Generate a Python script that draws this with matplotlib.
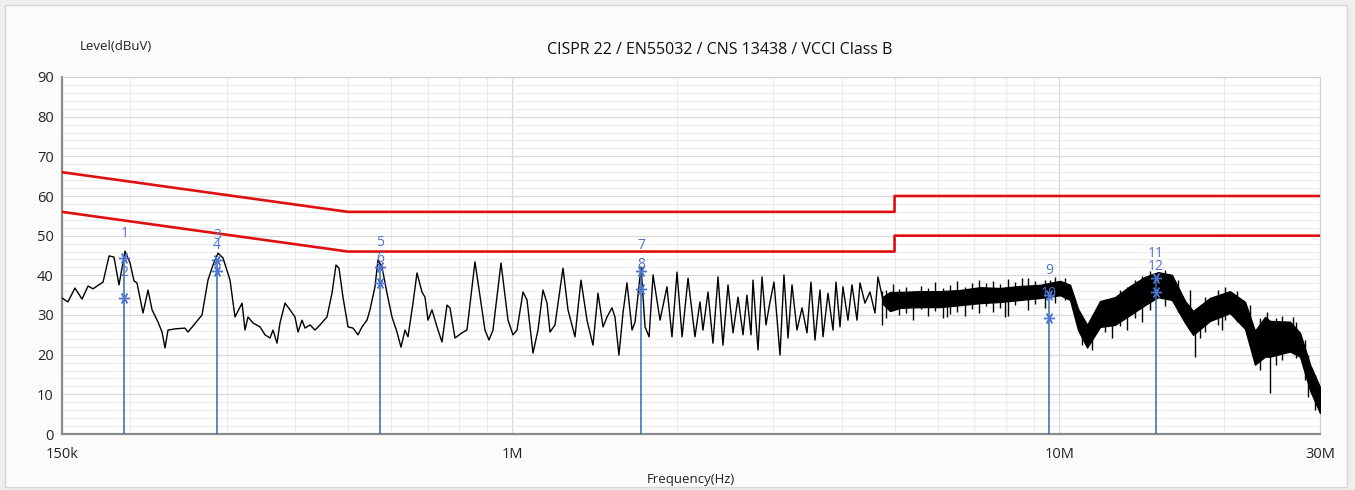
import matplotlib
matplotlib.use("Agg")
import matplotlib.pyplot as plt
from matplotlib.patches import Rectangle
from matplotlib.ticker import FixedLocator, NullFormatter

plt.rcParams['font.family'] = ['Open Sans', 'DejaVu Sans']

# --- conducted emission scan, resolved part (MHz, dBuV) ---
scan_mhz = [
    0.150, 0.1538, 0.1584, 0.1632, 0.1674, 0.1709, 0.1783, 0.1829, 0.1867, 0.1907,
    0.1956, 0.1998, 0.2031, 0.2057, 0.2110, 0.2155, 0.2192, 0.2248, 0.2286, 0.2315,
    0.2344, 0.2414, 0.2518, 0.2550, 0.2705, 0.2774, 0.2833, 0.2894, 0.2955, 0.3044,
    0.3108, 0.3202, 0.3242, 0.3283, 0.3353, 0.3454, 0.3527, 0.3602, 0.3648, 0.3710,
    0.3757, 0.3837, 0.3919, 0.4002, 0.4053, 0.4122, 0.4174, 0.4263, 0.4354, 0.4446,
    0.4579, 0.4677, 0.4756, 0.4817, 0.4898, 0.5003, 0.5109, 0.5218, 0.5307, 0.5420,
    0.5488, 0.5605, 0.5676, 0.5773, 0.5896, 0.6021, 0.6149, 0.6254, 0.6360, 0.6441,
    0.6578, 0.6690, 0.6832, 0.6919, 0.7007, 0.7126, 0.7278, 0.7432, 0.7591, 0.7687,
    0.7851, 0.8085, 0.8257, 0.8433, 0.8540, 0.8908, 0.9059, 0.9213, 0.9530, 0.9815,
    1.0023, 1.0194, 1.0455, 1.0632, 1.0904, 1.1136, 1.1373, 1.1567, 1.1714, 1.1963,
    1.2373, 1.2636, 1.3014, 1.3347, 1.3689, 1.4039, 1.4338, 1.4645, 1.4893, 1.521,
    1.540, 1.566, 1.593, 1.620, 1.655, 1.676, 1.719, 1.748, 1.778, 1.808,
    1.862, 1.917, 1.958, 2.000, 2.043, 2.095, 2.157, 2.203, 2.231, 2.279,
    2.327, 2.377, 2.427, 2.479, 2.532, 2.586, 2.641, 2.685, 2.731, 2.754,
    2.813, 2.861, 2.909, 2.959, 3.009, 3.086, 3.138, 3.192, 3.246, 3.315,
    3.386, 3.458, 3.516, 3.576, 3.652, 3.699, 3.777, 3.858, 3.907, 3.973,
    4.023, 4.109, 4.179, 4.268, 4.322, 4.414, 4.508, 4.604, 4.662, 4.761,
]
scan_dbuv = [
    34.3, 33.3, 36.8, 34.0, 37.3, 36.6, 38.3, 44.9, 44.6, 37.6,
    46.1, 43.1, 38.6, 38.1, 30.5, 36.3, 31.3, 28.2, 25.7, 21.7,
    26.2, 26.5, 26.7, 25.7, 30.0, 38.8, 42.6, 45.6, 44.4, 38.8,
    29.5, 33.0, 26.2, 29.5, 28.0, 27.0, 25.0, 24.2, 26.2, 22.9,
    28.0, 33.0, 31.3, 29.5, 25.7, 28.7, 26.7, 27.5, 26.2, 27.5,
    29.5, 35.5, 42.6, 41.8, 34.5, 27.0, 26.7, 25.0, 27.0, 28.7,
    31.3, 37.1, 43.9, 42.1, 35.5, 29.5, 25.7, 21.9, 26.2, 24.5,
    33.0, 40.6, 35.8, 34.5, 28.7, 31.3, 27.0, 23.2, 32.5, 31.8,
    24.2, 25.5, 26.2, 37.1, 43.4, 26.2, 23.7, 26.2, 43.1, 28.7,
    25.0, 26.2, 35.8, 33.8, 20.4, 26.2, 36.3, 33.0, 25.7, 27.5,
    41.8, 31.3, 24.5, 38.8, 28.7, 22.4, 35.5, 27.0, 29.5, 31.8,
    29.5, 19.9, 30.5, 38.1, 26.2, 28.2, 42.1, 27.0, 24.5, 40.1,
    28.7, 37.1, 24.5, 40.8, 24.5, 39.3, 24.5, 33.3, 26.2, 35.8,
    22.9, 39.6, 22.4, 37.6, 25.5, 34.5, 25.0, 35.0, 25.0, 38.8,
    21.2, 39.6, 27.5, 33.3, 38.3, 19.9, 40.1, 24.2, 37.6, 26.2,
    31.8, 25.5, 38.3, 23.7, 36.3, 24.5, 35.5, 26.2, 38.3, 27.0,
    37.1, 28.7, 37.6, 28.7, 38.1, 33.0, 35.8, 30.5, 39.6, 33.8,
]

# --- dense part of the scan above ~4.7 MHz: min / max envelope ---
band_mhz = [4.761, 4.904, 5.115, 5.565, 6.054, 6.588, 7.166, 7.796, 8.481, 9.227,
            10.04, 10.47, 10.83, 11.25, 11.88, 12.65, 13.48, 14.35, 15.17, 16.08,
            17.00, 17.58, 18.87, 20.53, 21.88, 22.81, 23.80, 24.30, 26.44, 27.58,
            28.77, 30.0]
band_lo = [32.8, 31.0, 31.8, 32.0, 32.0, 32.5, 33.0, 33.3, 33.8, 34.3,
           35.0, 33.8, 26.2, 21.8, 27.0, 27.5, 30.0, 32.5, 34.5, 33.8,
           28.0, 25.0, 28.5, 30.5, 26.5, 17.5, 19.5, 19.5, 20.8, 19.5,
           11.0, 5.3]
band_hi = [34.6, 35.8, 35.8, 36.0, 36.0, 36.3, 37.0, 36.8, 37.3, 37.6,
           38.6, 37.6, 31.5, 27.5, 33.5, 34.5, 37.3, 39.6, 40.8, 40.1,
           33.5, 31.0, 34.3, 36.0, 33.3, 26.0, 29.5, 28.5, 28.3, 25.5,
           17.5, 11.8]

# single sweep points poking out of the band (MHz, min, max)
spike_mhz = [4.741, 4.823, 4.968, 5.095, 5.247, 5.404, 5.589, 5.757, 5.929, 6.132,
             6.236, 6.316, 6.505, 6.729, 6.930, 7.137, 7.351, 7.571, 7.796, 7.96,
             8.063, 8.304, 8.553, 8.772, 9.036, 9.425, 9.624, 9.831, 10.25, 11.01,
             11.48, 12.13, 12.49, 12.92, 13.31, 13.76, 14.18, 14.66, 15.62, 16.50,
             17.36, 17.72, 18.10, 18.48, 19.53, 19.86, 20.11, 21.15, 22.34, 23.30,
             24.0, 24.30, 24.93, 25.56, 26.79, 27.12, 28.17, 28.53, 29.38]
spike_lo = [27.5, 29.2, 31.3, 30.0, 30.5, 28.7, 31.5, 29.7, 31.0, 29.2,
            29.5, 30.2, 30.8, 29.7, 31.5, 30.5, 32.3, 30.8, 31.8, 29.5,
            29.7, 32.5, 34.0, 31.3, 32.8, 31.8, 35.0, 33.0, 33.8, 22.4,
            21.2, 25.7, 24.2, 27.2, 26.2, 29.2, 28.2, 31.3, 32.3, 30.8,
            26.2, 19.4, 24.2, 25.7, 27.5, 26.2, 28.7, 28.2, 22.4, 16.1,
            22.0, 10.3, 17.4, 18.7, 21.0, 19.2, 13.6, 9.3, 6.0]
spike_hi = [36.0, 36.3, 37.8, 36.6, 37.1, 36.0, 37.3, 36.8, 38.3, 36.8,
            36.0, 37.6, 38.6, 37.1, 38.1, 38.8, 38.1, 38.6, 37.8, 37.0,
            39.1, 38.3, 39.3, 39.3, 38.6, 38.8, 38.8, 39.6, 39.3, 29.2,
            28.7, 33.8, 34.3, 36.3, 37.1, 38.8, 39.8, 41.1, 41.3, 38.8,
            36.3, 30.0, 32.5, 34.5, 36.3, 35.0, 37.1, 36.0, 32.5, 29.2,
            30.8, 28.0, 29.2, 29.7, 29.5, 28.2, 23.7, 20.0, 14.9]

# --- Class B limits ---
qp_limit_mhz = [0.15, 0.5, 5.0, 5.0, 30.0]
qp_limit_db = [66, 56, 56, 60, 60]
avg_limit_mhz = [0.15, 0.5, 5.0, 5.0, 30.0]
avg_limit_db = [56, 46, 46, 50, 50]

# --- final measurement points (odd = QP, even = AV) ---
mark_mhz = [0.195, 0.288, 0.572, 1.719, 9.59, 15.05]
mark_qp = [44.3, 43.8, 42.1, 41.1, 35.0, 39.3]
mark_av = [34.3, 41.1, 38.0, 36.5, 29.2, 35.8]

x_ticks = [0.15, 1, 10, 30]
x_tick_labels = ['150k', '1M', '10M', '30M']

fig = plt.figure(figsize=(13.55, 4.9), dpi=100)
fig.patch.set_facecolor('#eeeeee')
fig.patches.append(Rectangle((5 / 1355, 3 / 490), 1342 / 1355, 482 / 490,
                             transform=fig.transFigure, facecolor='#fbfbfb',
                             edgecolor='#d6d6d6', linewidth=1.0, zorder=-10))

ax = fig.add_axes([62 / 1355, 56 / 490, 1258 / 1355, 357 / 490])
ax.set_facecolor('white')
ax.set_xscale('log')
ax.set_xlim(0.15, 30)
ax.set_ylim(0, 90)

# grid
minor_x = [0.2, 0.3, 0.4, 0.5, 0.6, 0.7, 0.8, 0.9,
           2, 3, 4, 5, 6, 7, 8, 9, 20]
ax.xaxis.set_major_locator(FixedLocator(x_ticks))
ax.xaxis.set_minor_locator(FixedLocator(minor_x))
ax.xaxis.set_minor_formatter(NullFormatter())
ax.set_xticklabels(x_tick_labels)
ax.yaxis.set_major_locator(FixedLocator(list(range(0, 91, 10))))
ax.yaxis.set_minor_locator(FixedLocator([v for v in range(0, 91, 2) if v % 10]))
ax.grid(True, which='major', color='#d9d9d9', linewidth=0.9)
ax.grid(True, which='minor', color='#ececec', linewidth=0.8)
ax.set_axisbelow(True)
ax.tick_params(which='both', length=0, labelsize=10.5, colors='#222222', pad=6)
ax.tick_params(axis='x', pad=9)

for side in ['top', 'right']:
    ax.spines[side].set_color('#d0d0d0')
    ax.spines[side].set_linewidth(0.8)
for side in ['left', 'bottom']:
    ax.spines[side].set_color('#8a8a8a')
    ax.spines[side].set_linewidth(1.6)

# limit lines
ax.plot(qp_limit_mhz, qp_limit_db, color='#e01010', linewidth=1.9, zorder=3)
ax.plot(avg_limit_mhz, avg_limit_db, color='#e01010', linewidth=1.9, zorder=3)

# measured trace
ax.plot(scan_mhz, scan_dbuv, color='black', linewidth=1.0, zorder=4)
ax.fill_between(band_mhz, band_lo, band_hi, color='black', linewidth=1.0,
                edgecolor='black', zorder=4)
ax.vlines(spike_mhz, spike_lo, spike_hi, color='black', linewidth=1.0, zorder=4)

# markers with drop lines and numbers
blue = '#2f6db5'
label_blue = '#4f74d0'
ax.vlines(mark_mhz, 0, mark_qp, color=blue, linewidth=1.1, zorder=5)
ax.plot(mark_mhz, mark_qp, linestyle='none', marker=(6, 2, 90), markersize=8,
        color=label_blue, markeredgewidth=1.0, zorder=6)
ax.plot(mark_mhz, mark_av, linestyle='none', marker=(6, 2, 90), markersize=8,
        color=label_blue, markeredgewidth=1.0, zorder=6)
for i, f in enumerate(mark_mhz):
    for j, level in enumerate((mark_qp[i], mark_av[i])):
        ax.annotate(str(2 * i + j + 1), (f, level), xytext=(0, 18),
                    textcoords='offset points', ha='center', va='center',
                    fontsize=10, color=label_blue, zorder=7)

ax.set_xlabel('Frequency(Hz)', fontsize=9.5, color='#222222', labelpad=8)
fig.text(80 / 1355, 1 - 47 / 490, 'Level(dBuV)', fontsize=9.5,
         color='#222222', va='center', ha='left')
fig.text(720 / 1355, 1 - 50 / 490, 'CISPR 22 / EN55032 / CNS 13438 / VCCI Class B',
         fontsize=11.5, color='#111111', va='center', ha='center')

fig.savefig('out.png', dpi=100, facecolor=fig.get_facecolor())
